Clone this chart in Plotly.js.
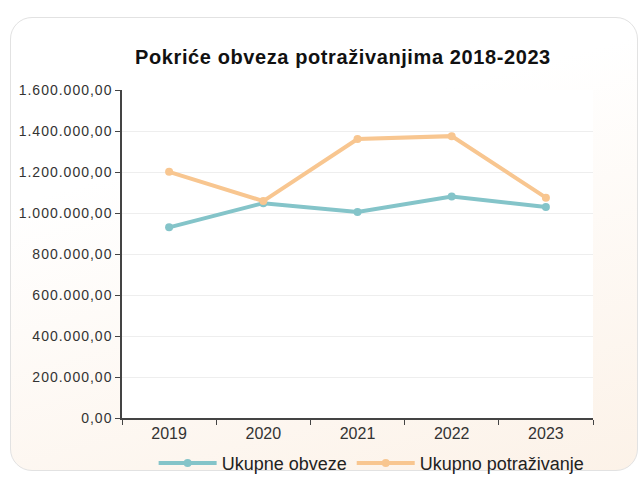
<!DOCTYPE html>
<html>
<head>
<meta charset="utf-8">
<script src="https://cdn.plot.ly/plotly-3.0.1.min.js"></script>
<style>
  body { margin: 0; background: #fff; }
  #card {
    position: absolute; left: 10px; top: 17px; width: 626px; height: 452px;
    border: 1px solid #e2e2e2; border-radius: 22px;
    background: linear-gradient(165deg, #ffffff 30%, #fcf2e8 100%);
  }
  #chart { position: absolute; left: 0; top: 0; width: 641px; height: 478px; }
  /* reference text is a bit wider than the font */
  #chart .ytick text { letter-spacing: 1px; }
  #chart .gtitle { letter-spacing: 0.6px; }
</style>
</head>
<body>
<div id="card"></div>
<div id="chart"></div>
<script>
// Chart data
const years = ["2019", "2020", "2021", "2022", "2023"];
const obveze = [930000, 1048000, 1005000, 1080000, 1029000];
const potrazivanje = [1201000, 1058000, 1361000, 1375000, 1075000];

const traceObveze = {
  x: years,
  y: obveze,
  name: 'Ukupne obveze',
  type: 'scatter',
  mode: 'lines+markers',
  line: { color: '#84c4c9', width: 4 },
  marker: { color: '#84c4c9', size: 8 }
};

const tracePotr = {
  x: years,
  y: potrazivanje,
  name: 'Ukupno potraživanje',
  type: 'scatter',
  mode: 'lines+markers',
  line: { color: '#f8c690', width: 4 },
  marker: { color: '#f8c690', size: 8 }
};

const layout = {
  width: 641,
  height: 478,
  margin: { l: 122, r: 48, t: 90, b: 60 },
  paper_bgcolor: 'rgba(0,0,0,0)',
  plot_bgcolor: '#ffffff',
  separators: ',.',
  font: { family: 'Liberation Sans, Arial, sans-serif', color: '#333' },
  title: {
    text: '<b>Pokriće obveza potraživanjima 2018-2023</b>',
    font: { size: 20, color: '#111' },
    x: 0.535, xanchor: 'center',
    y: 0.881, yanchor: 'middle'
  },
  xaxis: {
    type: 'category',
    range: [-0.5, 4.5],
    showline: true,
    linecolor: '#444',
    linewidth: 1.5,
    ticks: 'outside',
    tickson: 'boundaries',
    ticklen: 5,
    tickcolor: '#444',
    showgrid: false,
    tickfont: { size: 16, color: '#333' }
  },
  yaxis: {
    range: [0, 1600000],
    dtick: 200000,
    tickformat: ',.2f',
    showline: true,
    linecolor: '#444',
    linewidth: 1.5,
    ticks: 'outside',
    ticklen: 5,
    tickcolor: '#444',
    gridcolor: '#eeeeee',
    zeroline: false,
    tickfont: { size: 14, color: '#333' }
  },
  showlegend: true,
  legend: {
    orientation: 'h',
    x: 0.53, xanchor: 'center',
    yref: 'container',
    y: 0.031, yanchor: 'middle',
    itemwidth: 58,
    font: { size: 18, color: '#222' },
    bgcolor: 'rgba(0,0,0,0)'
  }
};

Plotly.newPlot('chart', [traceObveze, tracePotr], layout, { displayModeBar: false });
</script>
</body>
</html>
